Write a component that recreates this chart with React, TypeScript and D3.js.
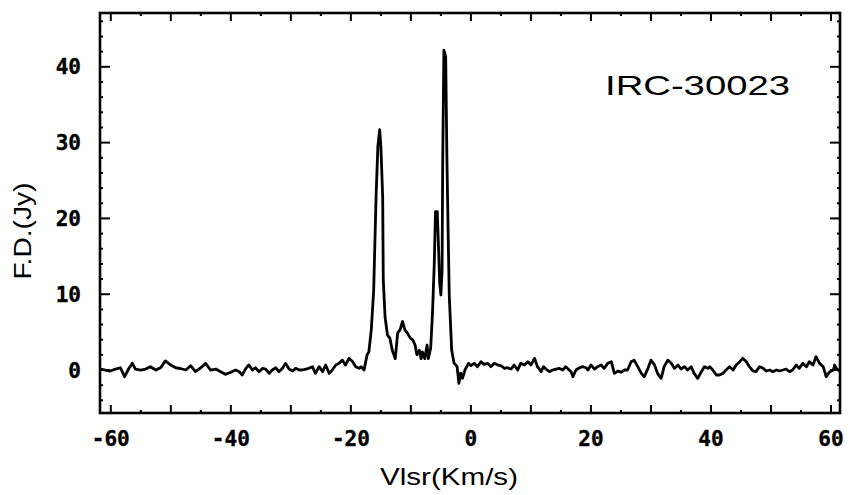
import React from "react";
import * as d3 from "d3";

const velocity = [
  -61.7, -60.9, -60.1, -59.2, -58.4, -57.7, -57.0, -56.4, -55.9, -55.0,
  -54.2, -53.4, -52.5, -51.7, -50.9, -50.0, -49.2, -48.4, -47.5, -46.7,
  -45.9, -45.0, -44.2, -43.4, -42.5, -41.7, -40.9, -40.0, -39.2, -38.6,
  -38.1, -37.5, -37.0, -36.4, -35.9, -35.3, -34.7, -34.2, -33.6, -33.1,
  -32.5, -32.0, -31.4, -30.9, -30.3, -29.7, -29.2, -28.6, -28.1, -27.5,
  -27.0, -26.4, -25.9, -25.3, -24.7, -24.2, -23.6, -23.1, -22.5, -22.0,
  -21.4, -20.9, -20.3, -19.7, -19.2, -18.6, -18.3, -17.8, -17.3, -17.0,
  -16.6, -16.2, -15.8, -15.5, -15.2, -15.0, -14.7, -14.6, -14.3, -13.9,
  -13.5, -13.1, -12.6, -12.2, -11.8, -11.4, -11.0, -10.6, -10.1, -9.7,
  -9.3, -9.0, -8.6, -8.3, -8.1, -7.7, -7.3, -7.1, -6.7, -6.4,
  -6.1, -5.9, -5.6, -5.4, -5.2, -5.0, -4.8, -4.7, -4.5, -4.2,
  -4.0, -3.8, -3.6, -3.2, -2.8, -2.3, -2.0, -1.7, -1.4, -1.0,
  -0.4, 0.0, 0.55, 1.1, 1.7, 2.2, 2.8, 3.3, 3.9, 4.5,
  5.0, 5.6, 6.1, 6.7, 7.2, 7.8, 8.3, 8.9, 9.5, 10.0,
  10.6, 11.1, 11.7, 12.1, 12.5, 13.1, 13.6, 14.2, 14.7, 15.3,
  15.8, 16.7, 17.0, 17.5, 18.1, 18.6, 19.2, 19.5, 20.0, 20.6,
  21.1, 21.7, 22.2, 22.8, 23.4, 23.9, 24.5, 25.0, 25.6, 26.1,
  26.7, 27.2, 27.8, 28.4, 28.9, 29.5, 30.0, 30.6, 31.1, 31.7,
  32.2, 32.8, 33.4, 33.9, 34.5, 35.0, 35.6, 36.1, 36.7, 37.2,
  37.8, 38.4, 38.9, 39.5, 39.8, 40.3, 40.9, 41.4, 42.0, 42.5,
  43.1, 43.7, 44.2, 44.8, 45.3, 45.9, 46.4, 47.0, 47.5, 48.1,
  48.7, 49.2, 49.8, 50.3, 50.9, 51.4, 52.0, 52.5, 53.1, 53.6,
  54.2, 54.7, 55.3, 55.9, 56.4, 57.0, 57.5, 58.1, 58.7, 59.2,
  59.8, 60.4, 60.6, 60.9, 61.4,
];

const flux = [
  0.13, 0.0, -0.13, 0.13, 0.3, -0.88, 0.2, 0.88, 0.13, 0.0,
  0.13, 0.44, 0.0, 0.3, 1.2, 0.66, 0.3, 0.2, 0.0, 0.57,
  -0.22, 0.3, 0.88, 0.0, 0.13, -0.22, -0.57, -0.3, 0.0, -0.22,
  -0.66, 0.22, 0.66, 0.0, 0.3, -0.22, 0.22, 0.13, -0.44, 0.0,
  0.3, -0.22, 0.22, 0.88, 0.13, -0.13, 0.22, 0.0, 0.0, 0.13,
  0.22, 0.44, -0.44, 0.44, -0.22, 0.66, -0.44, 0.0, 0.66, 0.88,
  1.3, 0.66, 1.54, 1.1, 0.44, 0.22, 0.44, 0.0, 2.0, 2.4,
  5.3, 10.5, 22.9, 29.5, 31.7, 29.5, 22.9, 11.9, 7.0, 4.6,
  4.2, 2.6, 1.5, 4.9, 5.3, 6.4, 5.3, 4.9, 4.2, 4.0,
  3.3, 2.0, 2.6, 1.5, 2.4, 1.5, 3.3, 1.5, 2.9, 7.5,
  14.1, 20.9, 20.9, 16.3, 11.5, 9.9, 13.2, 27.3, 42.2, 41.3,
  28.1, 18.5, 9.7, 2.6, 0.9, 0.44, -1.76, -0.4, -1.1, 0.0,
  0.88, 0.57, 0.88, 0.44, 1.1, 0.75, 0.88, 0.44, 0.88, 0.66,
  0.57, 0.22, 0.3, 0.13, 0.66, 0.0, 0.88, 0.66, 1.1, 0.66,
  1.54, 0.44, -0.22, 0.44, 0.13, -0.22, 0.0, 0.13, 0.22, 0.0,
  0.44, -0.22, -0.88, 0.0, 0.3, 0.44, 0.3, 0.0, 0.66, 0.13,
  0.44, 0.66, 0.22, 0.88, 1.1, -0.44, -0.13, -0.3, 0.0, 0.0,
  1.1, 1.3, 0.44, -0.44, -0.88, 0.22, 1.3, 0.66, -0.44, -1.1,
  0.44, 1.3, 0.88, 0.22, 0.66, 0.13, 0.44, 0.0, 0.44, -0.44,
  -1.1, -0.22, 0.44, 0.22, 0.44, 0.0, -0.66, -0.66, -0.44, 0.0,
  0.44, 0.0, 0.66, 1.1, 1.54, 1.1, 0.44, -0.13, -0.22, 0.44,
  0.22, -0.13, 0.0, -0.22, 0.0, -0.13, 0.0, 0.13, -0.22, 0.0,
  0.66, 0.22, 0.88, 0.44, 1.1, 0.66, 1.76, 0.88, 0.44, -0.88,
  -0.22, 0.0, 0.66, 0.22, -0.13,
];

const xTickLabels = [-60, -40, -20, 0, 20, 40, 60];
const xMajorTicks = [-60, -50, -40, -30, -20, -10, 0, 10, 20, 30, 40, 50, 60];
const xMinorTicks = [-55, -45, -35, -25, -15, -5, 5, 15, 25, 35, 45, 55];
const yTickLabels = [0, 10, 20, 30, 40];
const yMinorTicks = [-4, -2, 2, 4, 6, 8, 12, 14, 16, 18, 22, 24, 26, 28, 32, 34, 36, 38, 42, 44, 46];

const sourceName = "IRC-30023";
const xTitle = "Vlsr(Km/s)";
const yTitle = "F.D.(Jy)";

export default function App() {
  const W = 853;
  const H = 495;
  const left = 100, right = 840, top = 13, bottom = 413;

  const x = d3.scaleLinear().domain([-61.8, 61.5]).range([left, right]);
  const y = d3.scaleLinear().domain([-5.67, 47.1]).range([bottom, top]);

  const pts = velocity.map((v, i) => [v, flux[i]] as [number, number]);
  const line = d3
    .line<[number, number]>()
    .x((d) => x(d[0]))
    .y((d) => y(d[1]));

  const tickFont = {
    fontFamily: "'DejaVu Sans Mono', monospace",
    fontWeight: "bold" as const,
    fontSize: 21,
    stroke: "#000",
    strokeWidth: 0.4,
  };

  return (
    <svg
      width={W}
      height={H}
      style={{ position: "absolute", left: 0, top: 0, background: "#fff" }}
    >
      <rect x={0} y={0} width={W} height={H} fill="#fff" />
      <g stroke="#000" strokeWidth={2}>
        {xMajorTicks.map((t) => (
          <g key={"xM" + t}>
            <line x1={x(t)} x2={x(t)} y1={bottom} y2={bottom - 8} />
            <line x1={x(t)} x2={x(t)} y1={top} y2={top + 8} />
          </g>
        ))}
        {xMinorTicks.map((t) => (
          <g key={"xm" + t}>
            <line x1={x(t)} x2={x(t)} y1={bottom} y2={bottom - 3} />
            <line x1={x(t)} x2={x(t)} y1={top} y2={top + 3} />
          </g>
        ))}
        {yTickLabels.map((t) => (
          <g key={"yM" + t}>
            <line x1={left} x2={left + 10} y1={y(t)} y2={y(t)} />
            <line x1={right} x2={right - 10} y1={y(t)} y2={y(t)} />
          </g>
        ))}
        {yMinorTicks.map((t) => (
          <g key={"ym" + t}>
            <line x1={left} x2={left + 3} y1={y(t)} y2={y(t)} />
            <line x1={right} x2={right - 3} y1={y(t)} y2={y(t)} />
          </g>
        ))}
      </g>
      <rect
        x={left}
        y={top}
        width={right - left}
        height={bottom - top}
        fill="none"
        stroke="#000"
        strokeWidth={2.6}
      />
      <path
        d={line(pts) || ""}
        fill="none"
        stroke="#000"
        strokeWidth={2.8}
        strokeLinejoin="round"
      />
      {xTickLabels.map((t) => (
        <text
          key={"xl" + t}
          x={x(t)}
          y={446}
          textAnchor="middle"
          {...tickFont}
        >
          {t < 0 ? "-" + Math.abs(t) : String(t)}
        </text>
      ))}
      {yTickLabels.map((t) => (
        <text
          key={"yl" + t}
          x={81}
          y={y(t)}
          dy="0.36em"
          textAnchor="end"
          {...tickFont}
        >
          {t}
        </text>
      ))}
      <text
        x={449}
        y={485}
        textAnchor="middle"
        fontFamily="'Liberation Sans', Arial, sans-serif"
        fontSize={24}
        textLength={138}
        lengthAdjust="spacingAndGlyphs"
      >
        {xTitle}
      </text>
      <text
        transform="translate(31,231) rotate(-90)"
        textAnchor="middle"
        fontFamily="'Liberation Sans', Arial, sans-serif"
        fontSize={23}
        textLength={97}
        lengthAdjust="spacingAndGlyphs"
      >
        {yTitle}
      </text>
      <text
        x={605}
        y={95}
        fontFamily="'Liberation Sans', Arial, sans-serif"
        fontSize={28}
        textLength={185}
        lengthAdjust="spacingAndGlyphs"
      >
        {sourceName}
      </text>
    </svg>
  );
}
